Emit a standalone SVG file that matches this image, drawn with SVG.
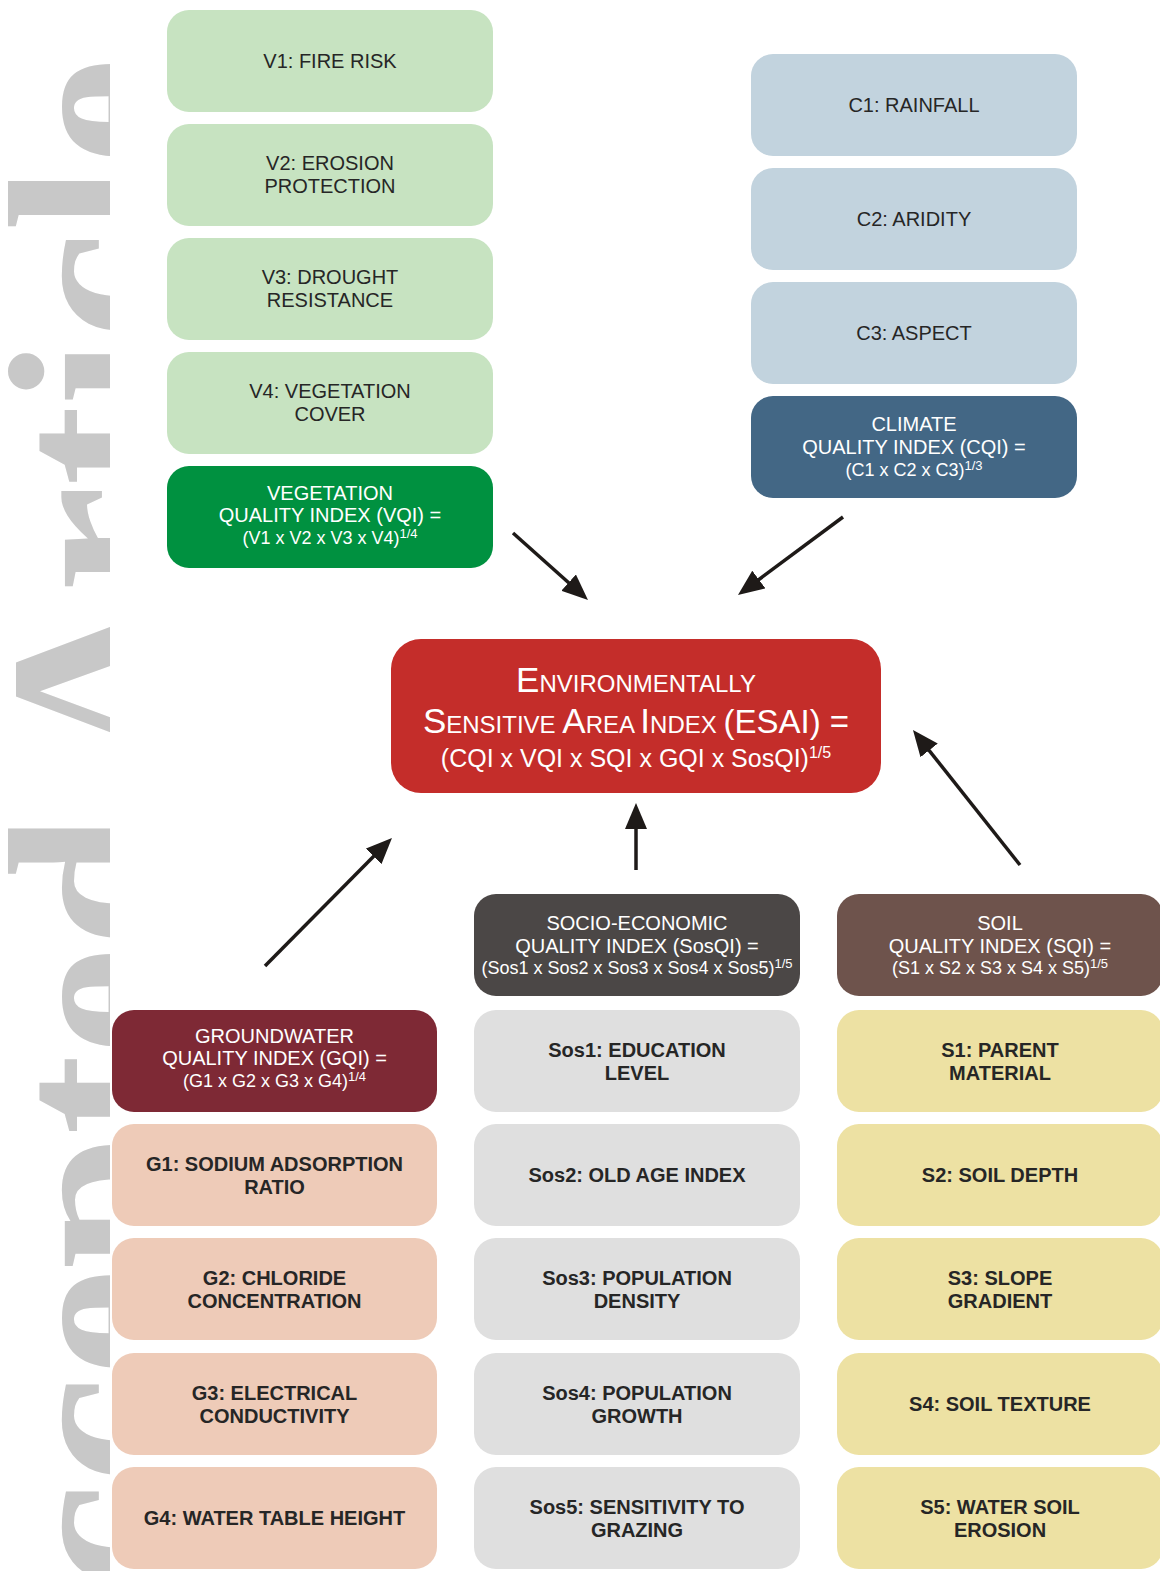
<svg xmlns="http://www.w3.org/2000/svg" width="1160" height="1571" viewBox="0 0 1160 1571">
<defs>
<style>
text{font-family:"Liberation Sans",Arial,sans-serif;text-anchor:middle}
.t{font-size:20px;fill:#262626}
.b{font-size:20px;fill:#262626;font-weight:bold}
.w{font-size:20px;fill:#ffffff}
.f{font-size:18px}
.sup{font-size:13px}
.vl{fill:#c7e3c1}.vq{fill:#009140}
.cl{fill:#c2d3de}.cq{fill:#436785}
.es{fill:#c42d2a}
.gq{fill:#7e2935}.gl{fill:#eecbb8}
.sq{fill:#4b4746}.sl{fill:#dfdfdf}
.oq{fill:#6e534c}.ol{fill:#ede1a3}
.wm{font-family:"Liberation Serif","Times New Roman",serif;font-size:241px;font-weight:bold;fill:#c8c8c8;text-anchor:start}
.ar{stroke:#1e1a18;stroke-width:3.5;fill:none}
</style>
<clipPath id="wmclip"><rect x="0" y="0" width="110" height="1571"/></clipPath>
<marker id="ah" markerUnits="userSpaceOnUse" markerWidth="26" markerHeight="22" refX="11" refY="11" orient="auto" viewBox="0 0 26 22">
<path d="M0,0 L26,11 L0,22 Z" fill="#1e1a18"/>
</marker>
</defs>
<rect x="0" y="0" width="1160" height="1571" fill="#ffffff"/>
<g id="watermark" clip-path="url(#wmclip)">
<text class="wm" transform="translate(176,1764) rotate(-90)">Accepted Article</text>
</g>

<g id="V1"><rect class="vl" x="167" y="10" width="326" height="102" rx="22"/><text class="t" x="330" y="68">V1: FIRE RISK</text></g>
<g id="V2"><rect class="vl" x="167" y="124" width="326" height="102" rx="22"/><text class="t" x="330" y="170">V2: EROSION</text><text class="t" x="330" y="193">PROTECTION</text></g>
<g id="V3"><rect class="vl" x="167" y="238" width="326" height="102" rx="22"/><text class="t" x="330" y="284">V3: DROUGHT</text><text class="t" x="330" y="307">RESISTANCE</text></g>
<g id="V4"><rect class="vl" x="167" y="352" width="326" height="102" rx="22"/><text class="t" x="330" y="398">V4: VEGETATION</text><text class="t" x="330" y="421">COVER</text></g>
<g id="VQI"><rect class="vq" x="167" y="466" width="326" height="102" rx="22"/><text class="w" x="330" y="500">VEGETATION</text><text class="w" x="330" y="522">QUALITY INDEX (VQI) =</text><text class="w f" x="330" y="544">(V1 x V2 x V3 x V4)<tspan class="sup" dy="-6">1/4</tspan></text></g>

<g id="C1"><rect class="cl" x="751" y="54" width="326" height="102" rx="22"/><text class="t" x="914" y="112">C1: RAINFALL</text></g>
<g id="C2"><rect class="cl" x="751" y="168" width="326" height="102" rx="22"/><text class="t" x="914" y="226">C2: ARIDITY</text></g>
<g id="C3"><rect class="cl" x="751" y="282" width="326" height="102" rx="22"/><text class="t" x="914" y="340">C3: ASPECT</text></g>
<g id="CQI"><rect class="cq" x="751" y="396" width="326" height="102" rx="22"/><text class="w" x="914" y="431">CLIMATE</text><text class="w" x="914" y="454">QUALITY INDEX (CQI) =</text><text class="w f" x="914" y="476">(C1 x C2 x C3)<tspan class="sup" dy="-6">1/3</tspan></text></g>

<g id="ESAI"><rect class="es" x="391" y="639" width="490" height="154" rx="30"/>
<text fill="#ffffff" x="636" y="692"><tspan font-size="35">E</tspan><tspan font-size="24">NVIRONMENTALLY</tspan></text>
<text fill="#ffffff" x="636" y="733"><tspan font-size="35">S</tspan><tspan font-size="24">ENSITIVE </tspan><tspan font-size="35">A</tspan><tspan font-size="24">REA </tspan><tspan font-size="35">I</tspan><tspan font-size="24">NDEX </tspan><tspan font-size="33">(ESAI) =</tspan></text>
<text fill="#ffffff" x="636" y="767" font-size="25">(CQI x VQI x SQI x GQI x SosQI)<tspan font-size="16" dy="-9">1/5</tspan></text>
</g>

<g id="GQI"><rect class="gq" x="112" y="1010" width="325" height="102" rx="22"/><text class="w" x="274.5" y="1043">GROUNDWATER</text><text class="w" x="274.5" y="1065">QUALITY INDEX (GQI) =</text><text class="w f" x="274.5" y="1087">(G1 x G2 x G3 x G4)<tspan class="sup" dy="-6">1/4</tspan></text></g>
<g id="G1"><rect class="gl" x="112" y="1124" width="325" height="102" rx="22"/><text class="b" x="274.5" y="1171">G1: SODIUM ADSORPTION</text><text class="b" x="274.5" y="1194">RATIO</text></g>
<g id="G2"><rect class="gl" x="112" y="1238" width="325" height="102" rx="22"/><text class="b" x="274.5" y="1285">G2: CHLORIDE</text><text class="b" x="274.5" y="1308">CONCENTRATION</text></g>
<g id="G3"><rect class="gl" x="112" y="1353" width="325" height="102" rx="22"/><text class="b" x="274.5" y="1400">G3: ELECTRICAL</text><text class="b" x="274.5" y="1423">CONDUCTIVITY</text></g>
<g id="G4"><rect class="gl" x="112" y="1467" width="325" height="102" rx="22"/><text class="b" x="274.5" y="1525">G4: WATER TABLE HEIGHT</text></g>

<g id="SosQI"><rect class="sq" x="474" y="894" width="326" height="102" rx="22"/><text class="w" x="637" y="930">SOCIO-ECONOMIC</text><text class="w" x="637" y="953">QUALITY INDEX (SosQI) =</text><text class="w f" x="637" y="974">(Sos1 x Sos2 x Sos3 x Sos4 x Sos5)<tspan class="sup" dy="-6">1/5</tspan></text></g>
<g id="Sos1"><rect class="sl" x="474" y="1010" width="326" height="102" rx="22"/><text class="b" x="637" y="1057">Sos1: EDUCATION</text><text class="b" x="637" y="1080">LEVEL</text></g>
<g id="Sos2"><rect class="sl" x="474" y="1124" width="326" height="102" rx="22"/><text class="b" x="637" y="1182">Sos2: OLD AGE INDEX</text></g>
<g id="Sos3"><rect class="sl" x="474" y="1238" width="326" height="102" rx="22"/><text class="b" x="637" y="1285">Sos3: POPULATION</text><text class="b" x="637" y="1308">DENSITY</text></g>
<g id="Sos4"><rect class="sl" x="474" y="1353" width="326" height="102" rx="22"/><text class="b" x="637" y="1400">Sos4: POPULATION</text><text class="b" x="637" y="1423">GROWTH</text></g>
<g id="Sos5"><rect class="sl" x="474" y="1467" width="326" height="102" rx="22"/><text class="b" x="637" y="1514">Sos5: SENSITIVITY TO</text><text class="b" x="637" y="1537">GRAZING</text></g>

<g id="SQI"><rect class="oq" x="837" y="894" width="326" height="102" rx="22"/><text class="w" x="1000" y="930">SOIL</text><text class="w" x="1000" y="953">QUALITY INDEX (SQI) =</text><text class="w f" x="1000" y="974">(S1 x S2 x S3 x S4 x S5)<tspan class="sup" dy="-6">1/5</tspan></text></g>
<g id="S1"><rect class="ol" x="837" y="1010" width="326" height="102" rx="22"/><text class="b" x="1000" y="1057">S1: PARENT</text><text class="b" x="1000" y="1080">MATERIAL</text></g>
<g id="S2"><rect class="ol" x="837" y="1124" width="326" height="102" rx="22"/><text class="b" x="1000" y="1182">S2: SOIL DEPTH</text></g>
<g id="S3"><rect class="ol" x="837" y="1238" width="326" height="102" rx="22"/><text class="b" x="1000" y="1285">S3: SLOPE</text><text class="b" x="1000" y="1308">GRADIENT</text></g>
<g id="S4"><rect class="ol" x="837" y="1353" width="326" height="102" rx="22"/><text class="b" x="1000" y="1411">S4: SOIL TEXTURE</text></g>
<g id="S5"><rect class="ol" x="837" y="1467" width="326" height="102" rx="22"/><text class="b" x="1000" y="1514">S5: WATER SOIL</text><text class="b" x="1000" y="1537">EROSION</text></g>

<g id="connectors">
<line class="ar" x1="513" y1="533" x2="576.8" y2="590" marker-end="url(#ah)"/>
<line class="ar" x1="843" y1="517" x2="750" y2="586.1" marker-end="url(#ah)"/>
<line class="ar" x1="636" y1="870" x2="636" y2="818" marker-end="url(#ah)"/>
<line class="ar" x1="265" y1="966" x2="381.4" y2="848.6" marker-end="url(#ah)"/>
<line class="ar" x1="1020" y1="865" x2="922.3" y2="741.8" marker-end="url(#ah)"/>
</g>
</svg>
